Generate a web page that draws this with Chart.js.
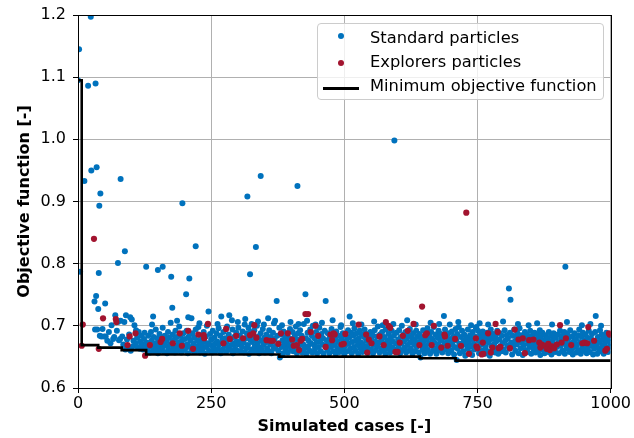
<!DOCTYPE html>
<html><head><meta charset="utf-8">
<script src="https://cdn.jsdelivr.net/npm/chart.js@4.4.0/dist/chart.umd.min.js"></script>
<style>
html,body{margin:0;padding:0;background:#fff;}
#wrap{position:relative;width:634px;height:438px;}
#legend{position:absolute;left:317px;top:23px;width:287px;height:77px;box-sizing:border-box;border:1px solid #cccccc;border-radius:4px;background:rgba(255,255,255,0.8);font-family:'DejaVu Sans',sans-serif;font-size:16.3px;color:#000;}
.lbl{position:absolute;left:52px;height:20px;line-height:20px;white-space:nowrap;}
.dot{position:absolute;width:6px;height:6px;border-radius:50%;}
.ln{position:absolute;left:5px;width:36px;height:3px;background:#000;}
</style></head>
<body>
<div id="wrap">
<canvas id="c" width="634" height="438"></canvas>
<div id="legend">
  <div class="dot" style="left:20px;top:9px;background:#0072BD"></div>
  <div class="lbl" style="top:4px">Standard particles</div>
  <div class="dot" style="left:20px;top:36px;background:#A2142F"></div>
  <div class="lbl" style="top:28px">Explorers particles</div>
  <div class="ln" style="top:63px"></div>
  <div class="lbl" style="top:52px">Minimum objective function</div>
</div>
</div>
<script>
const xTicks = [0, 250, 500, 750, 1000];
const yTicks = [0.6, 0.7, 0.8, 0.9, 1.0, 1.1, 1.2];

const minCases  = [1, 7, 38, 82, 128, 378, 642, 709, 1000];
const minValues = [1.095, 0.669, 0.665, 0.661, 0.654, 0.6505, 0.6478, 0.644, 0.644];

const standardParticles = [
[0,1.095],[2,1.145],[4,.787],[12,.933],[19,1.086],[24,1.197],[25,.950],[31,.739],[32,.694],[33,1.090],[34,.748],[35,.955],[36,.694],[38,.727],[39,.785],[40,.893],[42,.913],[51,.736],[75,.801],[80,.936],[88,.820],[128,.795],[150,.790],[159,.795],[175,.779],[177,.729],[196,.897],[203,.751],[209,.776],[221,.828],[318,.908],[323,.783],[334,.827],[343,.941],[412,.925],
[139,.702],[186,.708],[228,.704],[262,.703],[289,.709],[300,.706],[314,.711],[326,.703],[338,.707],[349,.702],[357,.712],[368,.704],[383,.701],[399,.706],[414,.703],[430,.708],[446,.702],[458,.705],[478,.709],[494,.701],[516,.704],[532,.702],[556,.707],[572,.701],[592,.703],[618,.709],[634,.702],[662,.705],[678,.703],[698,.702],[714,.706],[738,.701],[754,.704],[770,.702],[798,.707],[826,.703],[846,.701],[862,.704],[890,.702],[918,.706],[946,.701],[962,.703],[982,.700],
[41,.684],[44,.683],[46,.695],[49,.683],[52,.683],[55,.676],[58,.690],[61,.672],[63,.701],[66,.679],[68,.682],[70,.717],[73,.692],[75,.706],[77,.677],[79,.679],[80,.708],[83,.683],[85,.670],[87,.706],[89,.662],[90,.717],[92,.678],[94,.664],[96,.686],[98,.714],[99,.660],[101,.710],[103,.667],[104,.676],[106,.701],[108,.672],[109,.693],[111,.681],[112,.666],[114,.690],[116,.663],[117,.675],[119,.684],[120,.670],[122,.662],[124,.679],[125,.689],[127,.666],[129,.673],
[131,.661],[132,.684],[134,.670],[135,.657],[137,.690],[138,.676],[140,.665],[141,.715],[142,.682],[143,.659],[145,.672],[146,.694],[147,.663],[149,.680],[150,.656],[151,.668],[153,.687],[154,.674],[155,.660],[157,.679],[158,.665],[159,.697],[161,.671],[162,.658],[163,.684],[165,.668],[166,.676],[167,.656],[169,.690],[170,.662],[171,.681],[173,.670],[174,.705],[175,.659],[177,.675],[178,.686],[179,.664],[181,.678],[182,.657],[183,.692],[185,.668],[186,.682],[187,.660],[189,.673],[190,.699],[191,.665],[193,.684],[194,.657],[195,.676],[197,.669],[198,.688],[199,.661],
[201,.679],[202,.664],[204,.692],[205,.670],[206,.656],[207,.714],[208,.683],[210,.666],[211,.676],[213,.712],[214,.660],[215,.688],[217,.671],[218,.681],[219,.658],[221,.694],[222,.667],[224,.677],[225,.663],[226,.698],[228,.673],[229,.657],[230,.685],[232,.668],[233,.679],[234,.661],[236,.690],[237,.674],[238,.655],[240,.683],[241,.666],[242,.700],[244,.672],[245,.723],[246,.660],[248,.687],[249,.669],[250,.678],[252,.657],[253,.692],[254,.665],[256,.681],[257,.671],[258,.659],[260,.688],[261,.675],[263,.663],[264,.696],[265,.670],[267,.684],[268,.656],[269,.715],[271,.677],[272,.662],[273,.690],[275,.668],[276,.680],[278,.658],[279,.673],[280,.699],[282,.665],[283,.686],[284,.717],[286,.661],[287,.678],[288,.669],[290,.694],[291,.656],[293,.682],[294,.671],[295,.663],[297,.689],[298,.675],[299,.660],
[301,.697],[302,.670],[304,.684],[305,.659],[306,.676],[308,.666],[309,.691],[311,.673],[312,.657],[313,.702],[315,.680],[316,.664],[317,.688],[319,.669],[320,.697],[321,.655],[323,.678],[324,.690],[325,.662],[327,.674],[328,.685],[329,.658],[331,.693],[332,.667],[333,.679],[335,.660],[336,.700],[337,.672],[339,.683],[340,.656],[341,.665],[343,.688],[344,.676],[345,.661],[347,.695],[348,.669],[350,.681],[351,.657],[352,.673],[354,.686],[355,.664],[356,.678],[358,.659],[359,.693],[361,.670],[362,.682],[363,.656],[365,.675],[366,.689],[367,.663],[369,.679],[370,.708],[371,.667],[373,.740],[374,.684],[376,.660],[377,.672],[378,.697],[379,.649],[381,.686],[382,.666],[384,.677],[385,.656],[386,.691],[388,.670],[389,.682],[390,.662],[392,.674],[393,.688],[394,.657],[396,.668],[397,.680],[398,.695],[400,.663],
[401,.676],[403,.690],[404,.659],[405,.671],[407,.683],[408,.665],[409,.699],[411,.656],[412,.678],[413,.688],[415,.668],[416,.661],[417,.693],[419,.674],[420,.684],[421,.657],[423,.670],[424,.703],[425,.663],[427,.751],[428,.680],[429,.655],[431,.689],[432,.667],[433,.676],[435,.660],[436,.694],[437,.672],[439,.684],[440,.657],[441,.700],[443,.669],[444,.680],[445,.663],[447,.690],[448,.674],[449,.656],[451,.683],[452,.666],[453,.697],[455,.675],[456,.659],[457,.687],[459,.670],[460,.680],[461,.655],[463,.692],[464,.668],[465,.740],[467,.677],[468,.661],[469,.688],[471,.672],[472,.656],[473,.683],[475,.666],[476,.695],[477,.675],[479,.659],[480,.686],[481,.669],[483,.679],[484,.655],[485,.691],[487,.664],[488,.675],[489,.684],[491,.658],[492,.670],[493,.698],[495,.680],[496,.662],[497,.688],[499,.673],[500,.654],
[501,.667],[503,.685],[504,.676],[505,.659],[507,.693],[508,.671],[509,.681],[510,.715],[511,.663],[513,.689],[514,.656],[515,.674],[517,.684],[518,.666],[519,.696],[521,.660],[522,.677],[523,.688],[525,.669],[526,.655],[527,.680],[529,.692],[530,.664],[531,.673],[533,.686],[534,.658],[535,.670],[537,.682],[538,.694],[539,.662],[541,.676],[542,.687],[543,.667],[545,.657],[546,.681],[547,.671],[549,.690],[550,.662],[551,.678],[553,.685],[554,.656],[555,.669],[557,.693],[558,.675],[559,.661],[561,.683],[562,.668],[563,.699],[565,.673],[566,.657],[567,.686],[569,.664],[570,.679],[571,.690],[573,.660],[574,.672],[575,.682],[577,.655],[578,.694],[579,.667],[581,.677],[582,.663],[583,.687],[585,.670],[586,.657],[587,.681],[589,.692],[590,.665],[591,.675],[593,.684],[594,.998],[595,.659],[597,.671],[598,.689],[599,.662],
[601,.678],[602,.668],[603,.693],[605,.656],[606,.682],[607,.672],[608,.700],[609,.661],[611,.686],[612,.675],[613,.665],[615,.690],[616,.657],[617,.679],[619,.669],[620,.684],[621,.660],[623,.695],[624,.673],[625,.663],[627,.681],[628,.655],[629,.688],[631,.670],[632,.677],[633,.659],[635,.692],[636,.666],[637,.683],[639,.674],[640,.657],[641,.687],[643,.649],[644,.670],[645,.680],[647,.662],[648,.693],[649,.675],[651,.656],[652,.685],[653,.667],[655,.678],[656,.696],[657,.661],[659,.672],[660,.683],[661,.655],[663,.690],[664,.668],[665,.679],[667,.660],[668,.698],[669,.673],[671,.686],[672,.664],[673,.655],[675,.681],[676,.670],[677,.692],[679,.661],[680,.676],[681,.687],[683,.666],[684,.657],[685,.680],[687,.716],[688,.671],[689,.694],[691,.662],[692,.683],[693,.674],[695,.656],[696,.688],[697,.668],[699,.679],
[701,.660],[702,.691],[703,.673],[705,.683],[706,.654],[707,.666],[709,.695],[710,.677],[711,.645],[712,.687],[713,.663],[715,.698],[716,.671],[717,.656],[719,.682],[720,.667],[721,.692],[723,.659],[724,.676],[725,.686],[727,.652],[728,.670],[729,.681],[731,.663],[732,.694],[733,.674],[735,.658],[736,.685],[737,.667],[739,.679],[740,.653],[741,.690],[743,.671],[744,.662],[745,.683],[747,.697],[748,.698],[749,.665],[751,.692],[752,.676],[753,.656],[755,.686],[756,.669],[757,.680],[759,.660],[760,.691],[761,.672],[763,.684],[764,.655],[765,.666],[767,.678],[768,.689],[769,.659],[771,.673],[772,.683],[773,.652],[775,.694],[776,.668],[777,.679],[779,.661],[780,.687],[781,.670],[783,.657],[784,.682],[785,.675],[787,.692],[788,.664],[789,.655],[791,.678],[792,.688],[793,.667],[795,.659],[796,.684],[797,.672],[799,.662],
[801,.693],[802,.676],[803,.657],[805,.685],[806,.668],[807,.680],[809,.760],[810,.663],[811,.689],[812,.742],[813,.673],[815,.654],[816,.684],[817,.667],[819,.694],[820,.675],[821,.660],[823,.681],[824,.670],[825,.688],[827,.656],[828,.677],[829,.696],[831,.664],[832,.685],[833,.673],[835,.653],[836,.682],[837,.669],[839,.690],[840,.661],[841,.678],[843,.686],[844,.658],[845,.671],[847,.681],[848,.666],[849,.692],[851,.655],[852,.675],[853,.684],[855,.663],[856,.670],[857,.689],[859,.657],[860,.679],[861,.667],[863,.686],[864,.660],[865,.674],[867,.693],[868,.653],[869,.681],[871,.669],[872,.689],[873,.662],[875,.676],[876,.656],[877,.685],[879,.671],[880,.664],[881,.680],[883,.658],[884,.690],[885,.673],[887,.667],[888,.684],[889,.654],[891,.677],[892,.663],[893,.688],[895,.670],[896,.658],[897,.681],[899,.666],
[901,.686],[902,.673],[903,.656],[905,.692],[906,.668],[907,.679],[909,.660],[910,.684],[911,.671],[913,.690],[914,.655],[915,.795],[916,.676],[917,.664],[919,.687],[920,.669],[921,.680],[923,.658],[924,.693],[925,.672],[927,.662],[928,.683],[929,.654],[931,.675],[932,.688],[933,.666],[935,.679],[936,.657],[937,.670],[939,.685],[940,.661],[941,.694],[943,.674],[944,.655],[945,.683],[947,.667],[948,.689],[949,.660],[951,.677],[952,.670],[953,.686],[955,.656],[956,.681],[957,.664],[959,.692],[960,.672],[961,.658],[963,.680],[964,.668],[965,.687],[967,.654],[968,.676],[969,.663],[971,.690],[972,.716],[973,.670],[975,.655],[976,.682],[977,.664],[979,.674],[980,.693],[981,.659],[983,.686],[984,.667],[985,.678],[987,.655],[988,.683],[989,.671],[991,.662],[992,.689],[993,.676],[995,.658],[996,.680],[997,.666],[999,.673]
];

const explorerParticles = [
[7,.668],[9,.702],[30,.840],[39,.663],[47,.712],[71,.711],[72,.706],[93,.669],[97,.683],[108,.688],[126,.652],[135,.669],[155,.674],[158,.679],[178,.672],[191,.688],[195,.668],[207,.692],[216,.663],[226,.686],[236,.685],[237,.680],[244,.703],[273,.672],[278,.695],[285,.679],[297,.684],[310,.680],[323,.685],[329,.688],[331,.701],[335,.681],[354,.677],[361,.676],[366,.676],[376,.671],[381,.688],[394,.688],[402,.678],[405,.668],[411,.669],[415,.661],[418,.676],[421,.679],[427,.719],[432,.719],[437,.690],[446,.700],[451,.684],[465,.666],[474,.686],[477,.677],[480,.688],[482,.686],[495,.670],[499,.671],[502,.687],[527,.702],[541,.686],[543,.657],[546,.678],[551,.672],[566,.683],[574,.669],[578,.706],[583,.700],[586,.697],[596,.658],[600,.658],[604,.673],[610,.684],[619,.692],[630,.703],[641,.669],[646,.731],[652,.685],[655,.688],[664,.669],[668,.700],[682,.665],[688,.686],[689,.683],[694,.668],[708,.679],[719,.668],[729,.882],[734,.655],[747,.680],[748,.667],[750,.664],[758,.654],[760,.673],[761,.655],[770,.688],[775,.657],[778,.665],[784,.703],[788,.690],[790,.664],[793,.666],[811,.664],[820,.694],[827,.678],[835,.680],[839,.656],[847,.677],[855,.678],[866,.673],[868,.665],[871,.670],[877,.668],[880,.663],[883,.671],[886,.661],[890,.667],[894,.664],[899,.670],[905,.701],[908,.673],[916,.680],[926,.669],[947,.672],[951,.673],[956,.672],[958,.698],[969,.676],[990,.660],[993,.663],[997,.688],[998,.686]
];

const toXY = arr => arr.map(p => ({x: p[0], y: p[1]}));
const minLine = minCases.map((c, i) => ({x: c, y: minValues[i]}));

const frame = {
  id: 'frame',
  afterDatasetsDraw(chart) {
    const {ctx, chartArea: a} = chart;
    ctx.save();
    ctx.strokeStyle = '#000';
    ctx.lineWidth = 1;
    ctx.strokeRect(Math.round(a.left) + 0.5, Math.round(a.top) + 0.5, Math.round(a.right - a.left), Math.round(a.bottom - a.top));
    ctx.restore();
  }
};

const F = "'DejaVu Sans', sans-serif";
new Chart(document.getElementById('c'), {
  type: 'scatter',
  data: {
    datasets: [
      {type: 'line', label: 'Minimum objective function', data: minLine, borderColor: '#000', borderWidth: 2.6, pointRadius: 0, stepped: 'before', fill: false, order: 0},
      {label: 'Explorers particles', data: toXY(explorerParticles), backgroundColor: '#A2142F', borderWidth: 0, pointRadius: 3.1, order: 1},
      {label: 'Standard particles', data: toXY(standardParticles), backgroundColor: '#0072BD', borderWidth: 0, pointRadius: 3.0, order: 2}
    ]
  },
  options: {
    responsive: false, animation: false, devicePixelRatio: 1,
    layout: {padding: {top: 15, right: 21, left: 0, bottom: 0}},
    plugins: {legend: {display: false}, tooltip: {enabled: false}},
    scales: {
      x: {
        type: 'linear', min: 0, max: 1000,
        afterBuildTicks: s => { s.ticks = xTicks.map(v => ({value: v})); },
        afterFit: s => { s.height = 50; },
        grid: {color: '#b0b0b0', lineWidth: 1, tickColor: '#000', tickLength: 5},
        border: {color: '#000', width: 1},
        ticks: {color: '#000', font: {family: F, size: 16, lineHeight: 1}, padding: 3, maxRotation: 0, callback: v => String(v)},
        title: {display: true, text: 'Simulated cases [-]', color: '#000', font: {family: F, size: 16, weight: 'bold', lineHeight: 1}, padding: {top: 0, bottom: 3}}
      },
      y: {
        type: 'linear', min: 0.6, max: 1.2,
        afterBuildTicks: s => { s.ticks = yTicks.map(v => ({value: v})); },
        afterFit: s => { s.width = 78; },
        grid: {color: '#b0b0b0', lineWidth: 1, tickColor: '#000', tickLength: 5},
        border: {color: '#000', width: 1},
        ticks: {color: '#000', font: {family: F, size: 16, lineHeight: 1}, padding: 7, callback: v => Number(v).toFixed(1)},
        title: {display: true, text: 'Objective function [-]', color: '#000', font: {family: F, size: 16, weight: 'bold', lineHeight: 1}, padding: {top: 17, bottom: 0}}
      }
    }
  },
  plugins: [frame]
});
</script>
</body></html>
